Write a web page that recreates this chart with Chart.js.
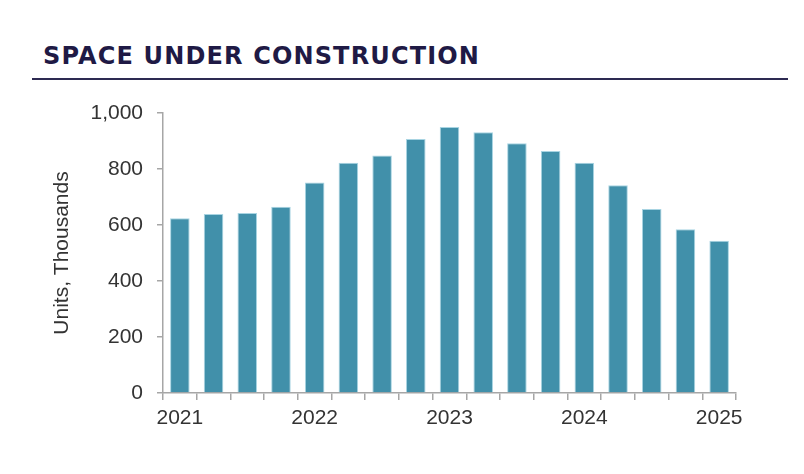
<!DOCTYPE html>
<html>
<head>
<meta charset="utf-8">
<script src="https://cdn.jsdelivr.net/npm/chart.js@4.4.1/dist/chart.umd.min.js"></script>
<style>
  html, body { margin: 0; padding: 0; background: #ffffff; }
  #wrap { position: relative; width: 804px; height: 474px; overflow: hidden; }
  #title {
    position: absolute; left: 43px; top: 39px;
    font-family: "DejaVu Sans", "Liberation Sans", sans-serif;
    font-weight: 700; font-size: 24px; letter-spacing: 1.15px;
    color: #1f1a45; white-space: nowrap; line-height: 34px;
  }
  #rule {
    position: absolute; left: 32px; top: 78px; width: 756px; height: 2px;
    background: #2d2a52;
  }
  canvas { position: absolute; left: 0; top: 0; }
</style>
</head>
<body>
<div id="wrap">
  <div id="title">SPACE UNDER CONSTRUCTION</div>
  <div id="rule"></div>
  <canvas id="c" width="804" height="474"></canvas>
</div>
<script>
const categories = ['2021 Q1','2021 Q2','2021 Q3','2021 Q4',
                    '2022 Q1','2022 Q2','2022 Q3','2022 Q4',
                    '2023 Q1','2023 Q2','2023 Q3','2023 Q4',
                    '2024 Q1','2024 Q2','2024 Q3','2024 Q4',
                    '2025 Q1'];
const unitsThousands = [624, 639, 643, 665, 752, 822, 848, 907, 950,
                        931, 892, 864, 822, 742, 657, 585, 544];
const yTicks = [0, 200, 400, 600, 800, 1000];
const yAxisTitle = 'Units, Thousands';

const FONT = { family: '"Liberation Sans", Arial, sans-serif', size: 21 };
const AXIS_GREY = '#a6a6a6';
const TEXT = '#333333';

new Chart(document.getElementById('c'), {
  type: 'bar',
  data: {
    labels: categories,
    datasets: [{
      data: unitsThousands,
      backgroundColor: '#4190aa',
      borderColor: '#a8d4e2',
      borderWidth: { top: 1, left: 1, right: 1, bottom: 0 },
      categoryPercentage: 1.0,
      barPercentage: 0.58
    }]
  },
  options: {
    responsive: false,
    animation: false,
    devicePixelRatio: 1,
    layout: { padding: { left: 46, right: 68, top: 113, bottom: 40 } },
    plugins: { legend: { display: false }, tooltip: { enabled: false } },
    scales: {
      x: {
        grid: { display: true, drawOnChartArea: false, drawTicks: true,
                tickLength: 7, color: AXIS_GREY, lineWidth: 1.5, offset: true },
        border: { display: true, color: AXIS_GREY, width: 1.5 },
        ticks: {
          autoSkip: false, maxRotation: 0, padding: 6,
          color: TEXT, font: FONT,
          callback: function(v, i) {
            const c = categories[i];
            return c.endsWith('Q1') ? c.slice(0, 4) : '';
          }
        },
        afterFit: function(s) { s.height = 41; }
      },
      y: {
        min: 0, max: 1000,
        afterBuildTicks: function(s) { s.ticks = yTicks.map(v => ({ value: v })); },
        grid: { display: true, drawOnChartArea: false, drawTicks: true,
                tickLength: 6, color: AXIS_GREY, lineWidth: 1.5 },
        border: { display: true, color: AXIS_GREY, width: 1.5 },
        ticks: {
          padding: 14, color: TEXT, font: FONT,
          callback: function(v) { return v.toLocaleString('en-US'); }
        },
        title: { display: true, text: yAxisTitle, color: TEXT, font: FONT,
                 padding: { top: 4, bottom: 4 } },
        afterFit: function(s) { s.width = 117; }
      }
    }
  }
});
</script>
</body>
</html>
